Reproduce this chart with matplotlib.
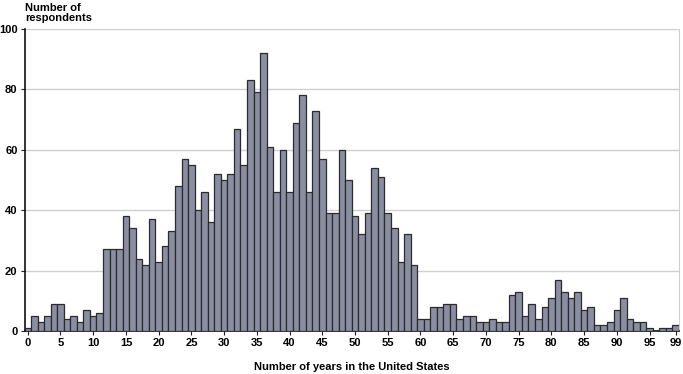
import matplotlib
matplotlib.use("Agg")
import matplotlib.pyplot as plt
import numpy as np

years = list(range(0, 100))
counts = [1, 5, 3, 5, 9, 9, 4, 5, 3, 7,
          5, 6, 27, 27, 27, 38, 34, 24, 22, 37,
          23, 28, 33, 48, 57, 55, 40, 46, 36, 52,
          50, 52, 67, 55, 83, 79, 92, 61, 46, 60,
          46, 69, 78, 46, 73, 57, 39, 39, 60, 50,
          38, 32, 39, 54, 51, 39, 34, 23, 32, 22,
          4, 4, 8, 8, 9, 9, 4, 5, 5, 3,
          3, 4, 3, 3, 12, 13, 5, 9, 4, 8,
          11, 17, 13, 11, 13, 7, 8, 2, 2, 3,
          7, 11, 4, 3, 3, 1, 0, 1, 1, 2]
xticks = [0, 5, 10, 15, 20, 25, 30, 35, 40, 45, 50, 55, 60, 65, 70, 75, 80, 85, 90, 95, 99]
yticks = [0, 20, 40, 60, 80, 100]

plt.rcParams['font.family'] = ['Liberation Sans', 'DejaVu Sans']
plt.rcParams['font.weight'] = 'bold'

fig = plt.figure(figsize=(6.83, 3.74), dpi=100)
ax = fig.add_axes([24.5/683, 1-331/374, (679-24.5)/683, (331-29)/374])

ax.bar(years, counts, width=1.0, color='#8a8ea2', edgecolor='#2b2b2b', linewidth=0.9, zorder=3)

ax.set_xlim(-0.5, 99.5)
ax.set_ylim(0, 100)
ax.set_yticks(yticks)
ax.set_xticks(xticks)
ax.set_xticklabels([str(v) for v in xticks], fontsize=8, fontweight='bold')
ax.set_yticklabels([str(v) for v in yticks], fontsize=8, fontweight='bold')
ax.tick_params(axis='both', length=3, width=0.8, color='#222222', pad=2)
ax.grid(axis='y', color='#cfcfcf', linewidth=1, zorder=0)
ax.set_axisbelow(True)

ax.spines['top'].set_visible(False)
ax.spines['right'].set_color('#d0d0d0')
ax.spines['left'].set_color('#111111')
ax.spines['bottom'].set_color('#111111')
ax.spines['left'].set_linewidth(1.2)
ax.spines['bottom'].set_linewidth(1.2)

fig.text(25/683, 1-3/374, "Number of\nrespondents", ha='left', va='top',
         fontsize=8, fontweight='bold', linespacing=1.0)
ax.set_xlabel("Number of years in the United States", fontsize=8, fontweight='bold', labelpad=10)

fig.savefig("out.png", dpi=100)
